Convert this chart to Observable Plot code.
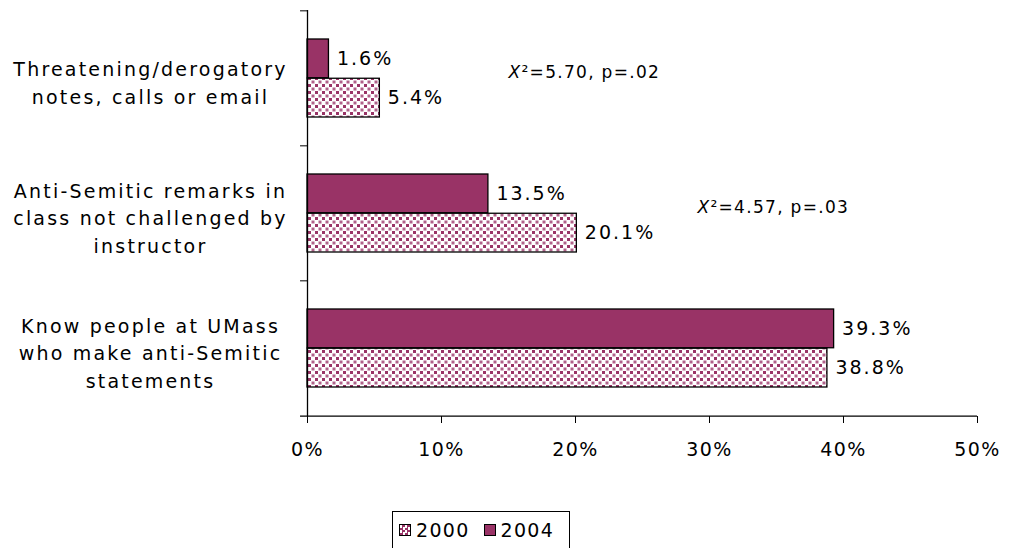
<!DOCTYPE html>
<html>
<head>
<meta charset="utf-8">
<script src="https://cdn.jsdelivr.net/npm/d3@7"></script>
<script src="https://cdn.jsdelivr.net/npm/@observablehq/plot@0.6"></script>
<style>
  body { margin: 0; background: #fff; font-family: "DejaVu Sans", sans-serif; }
  #wrap { position: relative; width: 1011px; height: 548px; }
  g[aria-description="catlabel"] text { letter-spacing: 2.2px; }
  g[aria-description="vallabel"] text { letter-spacing: 2px; }
  g[aria-description="chi"] text { letter-spacing: 1.3px; }
  g[aria-label="x-axis tick label"] text { letter-spacing: 1.5px; }
  #legend { position: absolute; left: 392px; top: 511px; width: 178px; height: 38px; box-sizing: border-box;
    border: 1px solid #000; display: flex; align-items: center; padding-left: 6px;
    font: 19px "DejaVu Sans", sans-serif; letter-spacing: 1.3px; color: #000; }
  .sw { width: 10px; height: 10px; border: 1px solid #000; display: inline-block; margin-right: 5px; }
  .item { display: flex; align-items: center; margin-right: 14px; }
</style>
</head>
<body>
<div id="wrap"></div>
<script>
const categories = [
  "Threatening/derogatory notes, calls or email",
  "Anti-Semitic remarks in class not challenged by instructor",
  "Know people at UMass who make anti-Semitic statements"
];
const categoryLines = [
  "Threatening/derogatory\nnotes, calls or email",
  "Anti-Semitic remarks in\nclass not challenged by\ninstructor",
  "Know people at UMass\nwho make anti-Semitic\nstatements"
];
const years = ["2000", "2004"];
const values2000 = [5.4, 20.1, 38.8];
const values2004 = [1.6, 13.5, 39.3];
const xTicks = [0, 10, 20, 30, 40, 50];
const chiCategories = [categories[0], categories[1]];
const chiStats = ["²=5.70, p=.02", "²=4.57, p=.03"];

const plum = "#993366";
const rows2000 = categories.map((c, i) => ({category: c, value: values2000[i]}));
const rows2004 = categories.map((c, i) => ({category: c, value: values2004[i]}));

const W = 1011, H = 500, mTop = 10, mBottom = 84, mLeft = 307, mRight = 34;
const pInner = 0.42, pOuter = 0.21;
const step = (H - mTop - mBottom) / (categories.length - pInner + 2 * pOuter);
const half = step * (1 - pInner) / 2;

const chiPos = [15, 29.1];

const svg = Plot.plot({
  width: W, height: H,
  marginTop: mTop, marginBottom: mBottom, marginLeft: mLeft, marginRight: mRight,
  style: {fontFamily: "DejaVu Sans, sans-serif", color: "#000", background: "#fff"},
  x: {domain: [0, 50], ticks: xTicks, tickFormat: d => d + "%", label: null},
  y: {domain: categories, paddingInner: pInner, paddingOuter: pOuter, axis: null},
  marks: [
    Plot.barX(rows2004, {x: "value", y: "category", fill: plum, stroke: "#000", strokeWidth: 1.3, insetBottom: half}),
    Plot.barX(rows2000, {x: "value", y: "category", fill: "url(#dots)", stroke: "#000", strokeWidth: 1.3, insetTop: half}),
    Plot.text(rows2004, {x: "value", y: "category", text: d => d.value.toFixed(1) + "%", dy: -half / 2, dx: 8, textAnchor: "start", fontSize: 19, ariaDescription: "vallabel"}),
    Plot.text(rows2000, {x: "value", y: "category", text: d => d.value.toFixed(1) + "%", dy: half / 2, dx: 8, textAnchor: "start", fontSize: 19, ariaDescription: "vallabel"}),
    Plot.text(categories, {y: d => d, text: (d, i) => categoryLines[i], frameAnchor: "left", dx: -157, dy: 3, textAnchor: "middle", fontSize: 19, lineHeight: 1.47, ariaDescription: "catlabel"}),
    Plot.text(chiCategories, {x: (d, i) => chiPos[i], y: d => d, text: () => "X", textAnchor: "start", fontSize: 17, fontStyle: "italic", dy: -6, ariaDescription: "chi"}),
    Plot.text(chiCategories, {x: (d, i) => chiPos[i], y: d => d, text: (d, i) => chiStats[i], textAnchor: "start", fontSize: 17, dx: 13, dy: -6, ariaDescription: "chi"}),
    Plot.ruleY(categories, {y: d => d, x1: -0.52, x2: 0, dy: -step / 2, stroke: "#000"}),
    Plot.ruleY([categories[categories.length - 1]], {y: d => d, x1: -0.52, x2: 50, dy: step / 2, stroke: "#000", strokeWidth: 1.3}),
    Plot.ruleX([0], {stroke: "#000", strokeWidth: 1.3}),
    Plot.axisX({ticks: xTicks, tickFormat: d => d + "%", tickSize: 7, tickPadding: 19, fontSize: 19, label: null, stroke: "#000"})
  ]
});

const defs = d3.select(svg).insert("defs", ":first-child");
const pat = defs.append("pattern").attr("id", "dots").attr("patternUnits", "userSpaceOnUse").attr("width", 7).attr("height", 7);
pat.append("rect").attr("width", 7).attr("height", 7).attr("fill", "#fff");
pat.append("rect").attr("x", 0).attr("y", 0).attr("width", 3).attr("height", 3).attr("fill", plum);
pat.append("rect").attr("x", 3.5).attr("y", 3.5).attr("width", 3).attr("height", 3).attr("fill", "#b0628a");

const wrap = document.getElementById("wrap");
wrap.appendChild(svg);

const legend = document.createElement("div");
legend.id = "legend";
const swatchStyles = [
  "background: repeating-conic-gradient(" + plum + " 0 25%, #fff 0 50%) 0 0 / 5px 5px;",
  "background:" + plum + ";"
];
years.forEach((y, i) => {
  const item = document.createElement("span");
  item.className = "item";
  item.innerHTML = `<span class="sw" style="${swatchStyles[i]}"></span><span>${y}</span>`;
  legend.appendChild(item);
});
wrap.appendChild(legend);
</script>
</body>
</html>
